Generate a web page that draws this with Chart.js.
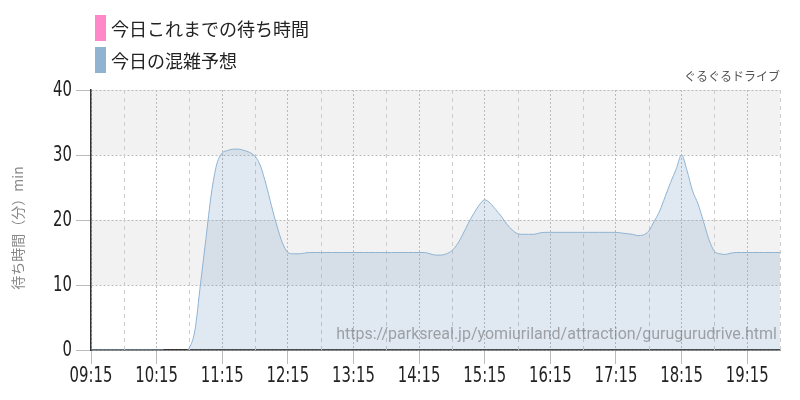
<!DOCTYPE html>
<html>
<head>
<meta charset="utf-8">
<script src="https://cdn.jsdelivr.net/npm/chart.js@4.4.0/dist/chart.umd.min.js"></script>
<style>
html, body { margin: 0; padding: 0; background: #fff; }
#wrap { position: relative; width: 800px; height: 400px; }
</style>
</head>
<body>
<div id="wrap"><canvas id="myChart" width="800" height="400"></canvas></div>
<script>
// time slots every 5 minutes, 09:15 -> 19:45
let startTime = '09:15';
let slotMinutes = 5;
let slotCount = 127;

let seriesNames = ['今日これまでの待ち時間', '今日の混雑予想'];
let seriesColors = ['#ff88c8', '#8fb3d0'];

// nothing recorded yet today
let todaySoFar = [];

// forecast wait time (min), one value per slot
let forecast = [
    0, 0, 0, 0, 0, 0, 0, 0, 0, 0, 0, 0,
    0, 0, -0.2, -0.3, -0.3, -0.3, 0.4, 3, 10, 17, 24, 28.6,
    30.3, 30.7, 30.9, 30.9, 30.7, 30.4, 29.8, 28.3, 25.5, 22.2, 19.1, 16.5,
    15.0, 14.8, 14.8, 14.9, 15, 15, 15, 15, 15, 15, 15, 15,
    15, 15, 15, 15, 15, 15, 15, 15, 15, 15, 15, 15,
    15, 15, 14.8, 14.6, 14.6, 14.8, 15.3, 16.3, 17.8, 19.5, 21.0, 22.3,
    23.1, 22.6, 21.6, 20.6, 19.4, 18.5, 17.9, 17.8, 17.8, 17.8, 18.0, 18.1,
    18.1, 18.1, 18.1, 18.1, 18.1, 18.1, 18.1, 18.1, 18.1, 18.1, 18.1, 18.1,
    18.1, 18.0, 17.9, 17.8, 17.6, 17.7, 18.3, 19.8, 21.4, 23.6, 25.8, 27.8,
    30.0, 27.6, 24.5, 22.5, 19.8, 17.0, 15.2, 14.8, 14.7, 14.9, 15, 15,
    15, 15, 15, 15, 15, 15, 15
];

let yMin = 0, yMax = 40, yStep = 10;
let yTitle = '待ち時間（分）min';
let siteName = 'ぐるぐるドライブ';
let sourceUrl = 'https://parksreal.jp/yomiuriland/attraction/gurugurudrive.html';

//build the slot labels
let labels = [];
let startMin = parseInt(startTime.slice(0, 2)) * 60 + parseInt(startTime.slice(3));
for (i = 0; i < slotCount; i++) {
    let m = startMin + i * slotMinutes;
    labels.push(String(Math.floor(m / 60)).padStart(2, '0') + ':' + String(m % 60).padStart(2, '0'));
}

const numFont = "'DejaVu Sans Condensed', 'DejaVu Sans', sans-serif";
const jpFont = "'Noto Sans CJK JP', sans-serif";
const narrow = 0.75;   // squeeze the tick digits a bit

// grey bands 10-20 and 30-40
const bandsPlugin = {
    id: 'bands',
    beforeDraw(chart) {
        const {ctx, chartArea, scales: {y}} = chart;
        ctx.save();
        ctx.fillStyle = '#f2f2f2';
        [[10, 20], [30, 40]].forEach(([a, b]) => {
            const top = y.getPixelForValue(b);
            const bottom = y.getPixelForValue(a);
            ctx.fillRect(chartArea.left, top, chartArea.right - chartArea.left, bottom - top);
        });
        ctx.restore();
    }
};

// dashed lines on the half hours
const halfHourPlugin = {
    id: 'halfHour',
    beforeDatasetsDraw(chart) {
        const {ctx, chartArea, scales: {x}} = chart;
        ctx.save();
        ctx.strokeStyle = '#cccccc';
        ctx.lineWidth = 1;
        ctx.setLineDash([4, 4]);
        labels.forEach((lab, i) => {
            if (lab.endsWith(':45')) {
                const px = Math.round(x.getPixelForValue(i)) + 0.5;
                ctx.beginPath();
                ctx.moveTo(px, chartArea.top);
                ctx.lineTo(px, chartArea.bottom);
                ctx.stroke();
            }
        });
        ctx.restore();
    }
};

// tick labels, drawn narrow at the scale's own tick positions
const narrowTicksPlugin = {
    id: 'narrowTicks',
    afterDraw(chart) {
        const {ctx, scales: {x, y}} = chart;
        ctx.save();
        ctx.fillStyle = '#222';
        ctx.font = '22px ' + numFont;
        ctx.textBaseline = 'middle';
        x.ticks.forEach((t, i) => {
            if (!t.label) return;
            ctx.save();
            ctx.translate(x.getPixelForTick(i), 376);
            ctx.scale(narrow, 1);
            ctx.textAlign = 'center';
            ctx.fillText(t.label, 0, 0);
            ctx.restore();
        });
        y.ticks.forEach((t) => {
            ctx.save();
            ctx.translate(72, y.getPixelForValue(t.value));
            ctx.scale(narrow, 1);
            ctx.textAlign = 'right';
            ctx.fillText(t.label, 0, 0);
            ctx.restore();
        });
        ctx.restore();
    }
};

// legend, titles and watermark
const extrasPlugin = {
    id: 'extras',
    afterDraw(chart) {
        const {ctx, chartArea} = chart;
        ctx.save();
        // legend
        chart.data.datasets.forEach((ds, i) => {
            const top = 15 + i * 32;
            ctx.fillStyle = ds.legendColor;
            ctx.fillRect(95, top, 11, 26);
            ctx.fillStyle = '#222';
            ctx.font = '18px ' + jpFont;
            ctx.textBaseline = 'middle';
            ctx.textAlign = 'left';
            ctx.fillText(ds.label, 111, top + 14);
        });
        // site name
        ctx.fillStyle = '#555';
        ctx.font = '12px ' + jpFont;
        ctx.textAlign = 'right';
        ctx.textBaseline = 'middle';
        ctx.fillText(siteName, chartArea.right, 76);
        // url
        ctx.fillStyle = 'rgba(100,100,100,0.55)';
        ctx.font = '16px Roboto, sans-serif';
        ctx.fillText(sourceUrl, chartArea.right - 3, 335);
        // y title
        ctx.translate(18, 228);
        ctx.rotate(-Math.PI / 2);
        ctx.textAlign = 'center';
        ctx.fillStyle = '#888';
        ctx.font = '14px ' + jpFont;
        ctx.fillText(yTitle, 0, 0);
        ctx.restore();
    }
};

const ctx = document.getElementById('myChart');
const waitChart = new Chart(ctx, {
    type: 'line',
    data: {
        labels: labels,
        datasets: [{
            label: seriesNames[0],
            data: todaySoFar,
            legendColor: seriesColors[0],
            borderColor: seriesColors[0],
            backgroundColor: 'rgba(255,136,200,0.3)',
            borderWidth: 1,
            pointRadius: 0
        }, {
            label: seriesNames[1],
            data: forecast,
            legendColor: seriesColors[1],
            borderColor: '#8fb3d3',
            backgroundColor: 'rgba(120,160,200,0.23)',
            borderWidth: 1,
            pointRadius: 0,
            fill: 'origin',
            cubicInterpolationMode: 'monotone'
        }]
    },
    options: {
        responsive: false,
        animation: false,
        layout: {
            padding: {top: 90, right: 20, left: 0, bottom: 0}
        },
        plugins: {
            legend: {display: false},
            tooltip: {enabled: false}
        },
        scales: {
            x: {
                type: 'category',
                offset: false,
                afterFit: (scale) => { scale.height = 50; },
                ticks: {
                    autoSkip: false,
                    maxRotation: 0,
                    padding: 2,
                    color: 'rgba(0,0,0,0)',
                    font: {family: numFont, size: 22},
                    callback: (v, i) => labels[i].endsWith(':15') ? labels[i] : null
                },
                grid: {
                    color: '#bbbbbb',
                    tickColor: '#bbbbbb',
                    tickLength: 14
                },
                border: {color: '#333', width: 1.5, dash: [2, 2]}
            },
            y: {
                min: yMin,
                max: yMax,
                afterFit: (scale) => { scale.width = 91; },
                ticks: {
                    stepSize: yStep,
                    padding: 3,
                    color: 'rgba(0,0,0,0)',
                    font: {family: numFont, size: 22}
                },
                grid: {
                    color: '#bbbbbb',
                    tickColor: '#bbbbbb',
                    tickLength: 15
                },
                border: {color: '#333', width: 1.5, dash: [2, 2]}
            }
        }
    },
    plugins: [bandsPlugin, halfHourPlugin, narrowTicksPlugin, extrasPlugin]
});
</script>
</body>
</html>
